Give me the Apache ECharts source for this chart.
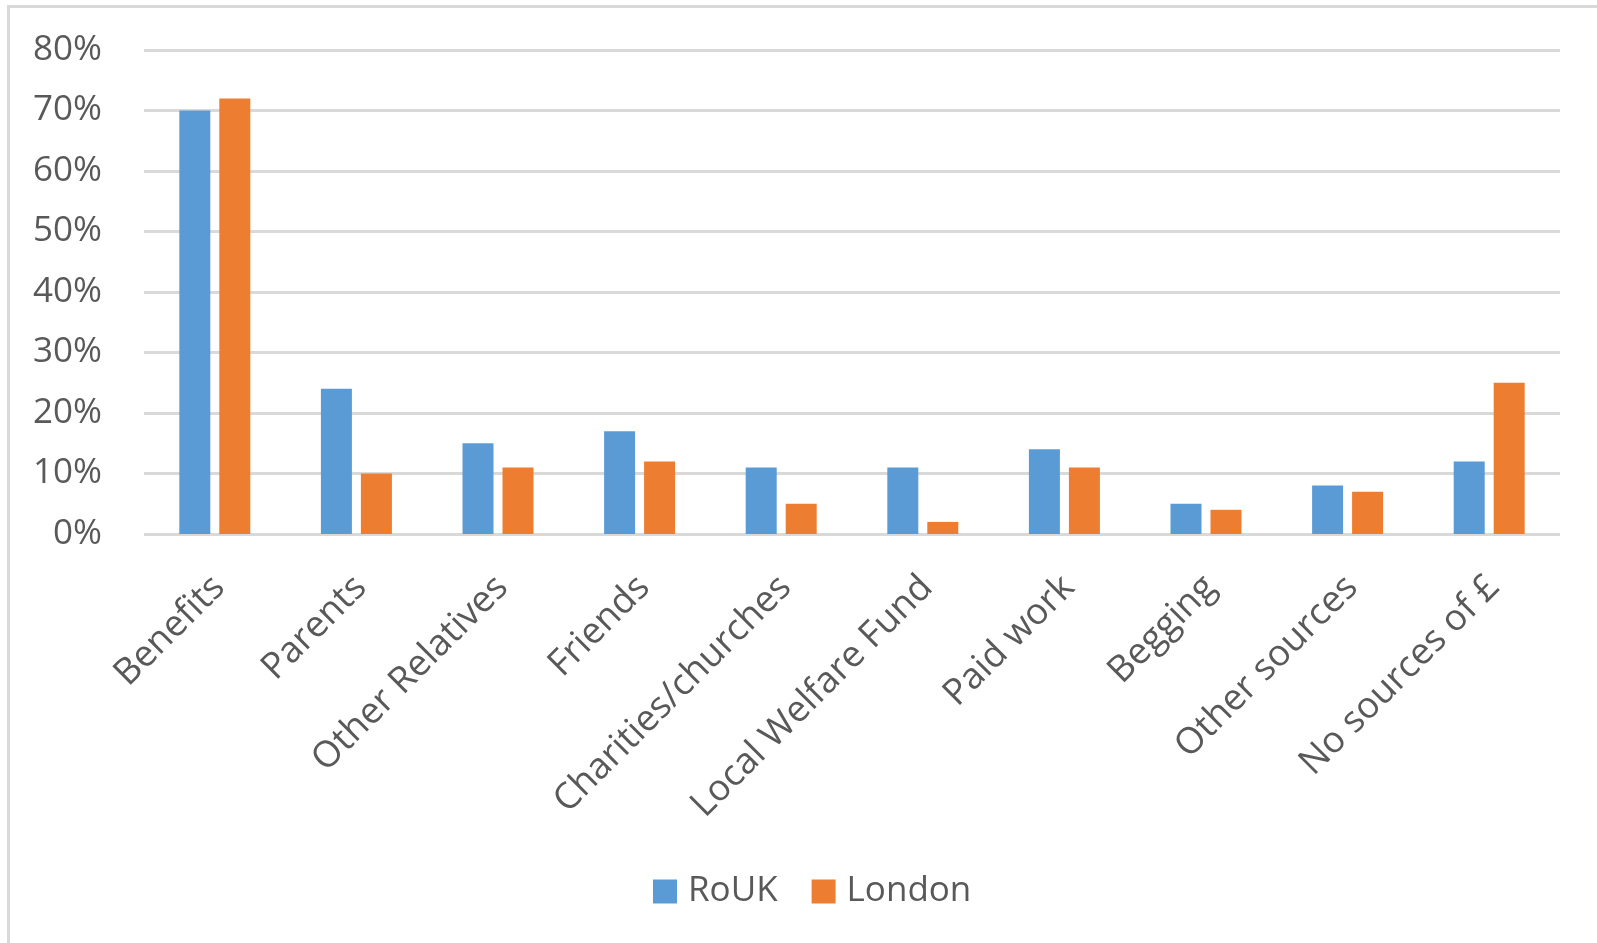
<!DOCTYPE html>
<html>
<head>
<meta charset="utf-8">
<style>
  html, body { margin: 0; padding: 0; background: #ffffff; }
  #chart { width: 1597px; height: 943px; }
</style>
<script src="https://cdn.jsdelivr.net/npm/echarts@6/dist/echarts.min.js"></script>
</head>
<body>
<div id="chart"></div>
<script>
// Sources of money (% of respondents)
const categories = ['Benefits', 'Parents', 'Other Relatives', 'Friends', 'Charities/churches',
  'Local Welfare Fund', 'Paid work', 'Begging', 'Other sources', 'No sources of \u00a3'];
const rouk = [70, 24, 15, 17, 11, 11, 14, 5, 8, 12];
const london = [72, 10, 11, 12, 5, 2, 11, 4, 7, 25];
const seriesNames = ['RoUK', 'London'];
const yTicks = { min: 0, max: 80, interval: 10 };

const textColor = '#595959';
const fontFamily = '"Open Sans", "Noto Sans", sans-serif';

const chart = echarts.init(document.getElementById('chart'), null, { renderer: 'canvas' });
chart.setOption({
  animation: false,
  backgroundColor: '#ffffff',
  graphic: [{
    type: 'rect',
    shape: { x: 8.5, y: 6.5, width: 2000, height: 2000 },
    style: { fill: 'none', stroke: '#d9d9d9', lineWidth: 3 },
    silent: true
  }],
  grid: { left: 144, right: 37, top: 50, bottom: 409 },
  legend: {
    data: seriesNames,
    left: 648,
    top: 869,
    icon: 'rect',
    itemWidth: 24,
    itemHeight: 24,
    itemGap: 34,
    textStyle: { color: textColor, fontSize: 35, fontFamily: fontFamily, padding: [0, 0, 0, 6] }
  },
  xAxis: {
    type: 'category',
    data: categories,
    axisLine: { show: false },
    axisTick: { show: false },
    axisLabel: {
      rotate: 45,
      interval: 0,
      margin: 52,
      color: textColor,
      fontSize: 36.5,
      fontFamily: fontFamily,
      padding: [0, -6, 0, 0]
    }
  },
  yAxis: {
    type: 'value',
    min: yTicks.min,
    max: yTicks.max,
    interval: yTicks.interval,
    axisLine: { show: false },
    axisTick: { show: false },
    splitLine: { lineStyle: { color: '#d9d9d9', width: 3 } },
    axisLabel: {
      formatter: '{value}%',
      margin: 42,
      color: textColor,
      fontSize: 35,
      fontFamily: fontFamily
    }
  },
  series: [
    {
      name: seriesNames[0],
      type: 'bar',
      data: rouk,
      barWidth: 31,
      barGap: '29%',
      itemStyle: { color: '#5b9bd5' }
    },
    {
      name: seriesNames[1],
      type: 'bar',
      data: london,
      barWidth: 31,
      barGap: '29%',
      itemStyle: { color: '#ed7d31' }
    }
  ]
});
</script>
</body>
</html>
